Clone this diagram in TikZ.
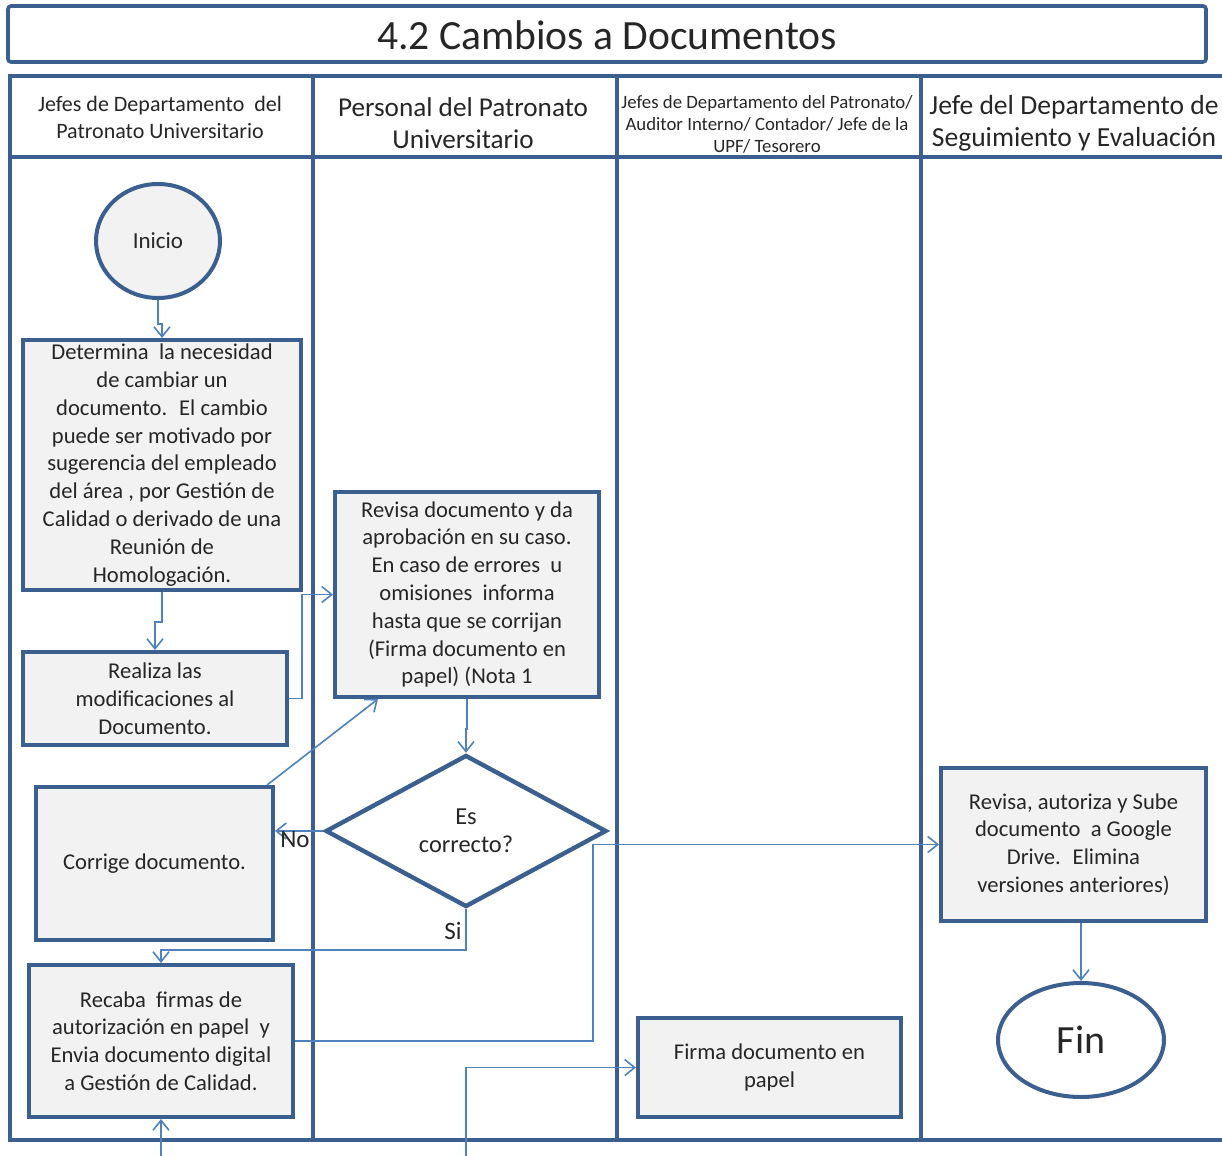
\documentclass[tikz,border=0pt]{standalone}
\usepackage{fontspec}
\setmainfont{Carlito}
\usetikzlibrary{arrows.meta,shapes.geometric,calc}

\definecolor{lane}{HTML}{3B5F8E}
\definecolor{conn}{HTML}{4F81BD}
\definecolor{boxfill}{HTML}{F2F2F2}
\definecolor{ink}{HTML}{262626}

\begin{document}
\begin{tikzpicture}[x=0.5pt,y=-0.5pt,
  lanes/.style={draw=lane, line width=2pt},
  proc/.style={rectangle, draw=lane, line width=2pt, fill=boxfill, align=center,
    inner sep=0pt, text=ink, font=\fontsize{11.3}{13.9}\selectfont},
  term/.style={ellipse, draw=lane, line width=2pt, inner sep=0pt, text=ink},
  decision/.style={diamond, aspect=1.85, draw=lane, line width=2.2pt, fill=white,
    inner sep=0pt, align=center, text=ink, font=\fontsize{12.2}{14}\selectfont},
  flow/.style={draw=conn, line width=0.8pt, -{Straight Barb[length=5pt,width=8pt]}},
  hdr/.style={align=center, text=ink, inner sep=0pt},
  tag/.style={text=ink, inner sep=0pt, font=\fontsize{12.5}{14}\selectfont},
]
\useasboundingbox (0,0) rectangle (1222,1156);

% title bar
\draw[lanes, line width=1.8pt, rounded corners=1.5pt] (8,6) rectangle (1206,62);
\node[hdr, font=\fontsize{20.8}{24}\selectfont] (title) at (607,35) {4.2 Cambios a Documentos};

% swimlane grid
\draw[lanes] (8,76) -- (1222,76);
\draw[lanes] (8,1140) -- (1222,1140);
\draw[lanes] (10,76) -- (10,1140);
\draw[lanes] (10,157) -- (1222,157);
\foreach \cx in {313,617,921} \draw[lanes] (\cx,76) -- (\cx,1140);

% lane headings
\node[hdr, font=\fontsize{11}{13.5}\selectfont] (h1) at (160,117)
  {Jefes de Departamento \ del\\Patronato Universitario};
\node[hdr, font=\fontsize{13.6}{16}\selectfont] (h2) at (463,123)
  {Personal del Patronato\\Universitario};
\node[hdr, font=\fontsize{9.4}{11}\selectfont] (h3) at (767,124)
  {Jefes de Departamento del Patronato/\\Auditor Interno/ Contador/ Jefe de la\\UPF/ Tesorero};
\node[hdr, font=\fontsize{13.8}{16}\selectfont] (h4) at (1074,123)
  {Jefe del Departamento de\\Seguimiento y Evaluación};

% steps
\node[term, fill=boxfill, minimum width=62pt, minimum height=57pt,
  font=\fontsize{11.5}{13}\selectfont] (ini) at (158,241) {Inicio};

\node[proc, minimum width=139pt, minimum height=125pt] (det) at (162,465)
  {Determina \ la necesidad\\de cambiar un\\documento. \ El cambio\\puede ser motivado por\\sugerencia del empleado\\del área , por Gestión de\\Calidad o derivado de una\\Reunión de\\Homologación.};

\node[proc, minimum width=132pt, minimum height=46.5pt] (real) at (155,698.5)
  {Realiza las\\modificaciones al\\Documento.};

\node[proc, minimum width=118.5pt, minimum height=76.5pt] (corr) at (154.5,863.5)
  {Corrige documento.};

\node[proc, minimum width=132pt, minimum height=76pt] (rec) at (161,1041)
  {Recaba \ firmas de\\autorización en papel \ y\\Envia documento digital\\a Gestión de Calidad.};

\node[proc, minimum width=132pt, minimum height=102.5pt] (rev) at (467,594.5)
  {Revisa documento y da\\aprobación en su caso.\\En caso de errores \ u\\omisiones \ informa\\hasta que se corrijan\\(Firma documento en\\papel) (Nota 1};

\node[decision, minimum width=140.5pt, minimum height=76pt] (dia) at (466,831)
  {Es\\correcto?};

\node[proc, minimum width=131.5pt, minimum height=49.5pt] (firma) at (769.5,1067.5)
  {Firma documento en\\papel};

\node[proc, minimum width=132.5pt, minimum height=76.5pt] (rva) at (1073.5,844.5)
  {Revisa, autoriza y Sube\\documento \ a Google\\Drive. \ Elimina\\versiones anteriores)};

\node[term, fill=white, minimum width=83pt, minimum height=57pt,
  font=\fontsize{20}{22}\selectfont] (fin) at (1081,1040) {Fin};

% loose ends entering from below
\coordinate (inA) at (161,1156);
\coordinate (inB) at (466,1156);

% connectors
\draw[flow] (ini.south) -- ++(0,24) -| (det.north);
\draw[flow] (det.south) -- ++(0,30) -| (real.north);
\draw[flow] (real.east) -- ++(13,0) |- (rev.west);
\draw[flow] (rev.south) -- ++(0,30) -| (dia.north);
\draw[flow] (dia.west) -- (dia.west -| corr.east);
\draw[flow] ($(corr.north east)+(-8,0)$) -- ($(rev.south west)+(45,0)$);
\draw[flow] (dia.south) -- ++(0,41) -| (rec.north);
\draw[flow] (rec.east) -- ++(298,0) |- (rva.west);
\draw[flow] (inA) -- (rec.south);
\draw[flow] (inB) |- (firma.west);
\draw[flow] (fin.north |- rva.south) -- (fin.north);

% branch labels
\node[tag] (lno) at (295,840) {No};
\node[tag] (lsi) at (453,931) {Si};
\end{tikzpicture}
\end{document}
